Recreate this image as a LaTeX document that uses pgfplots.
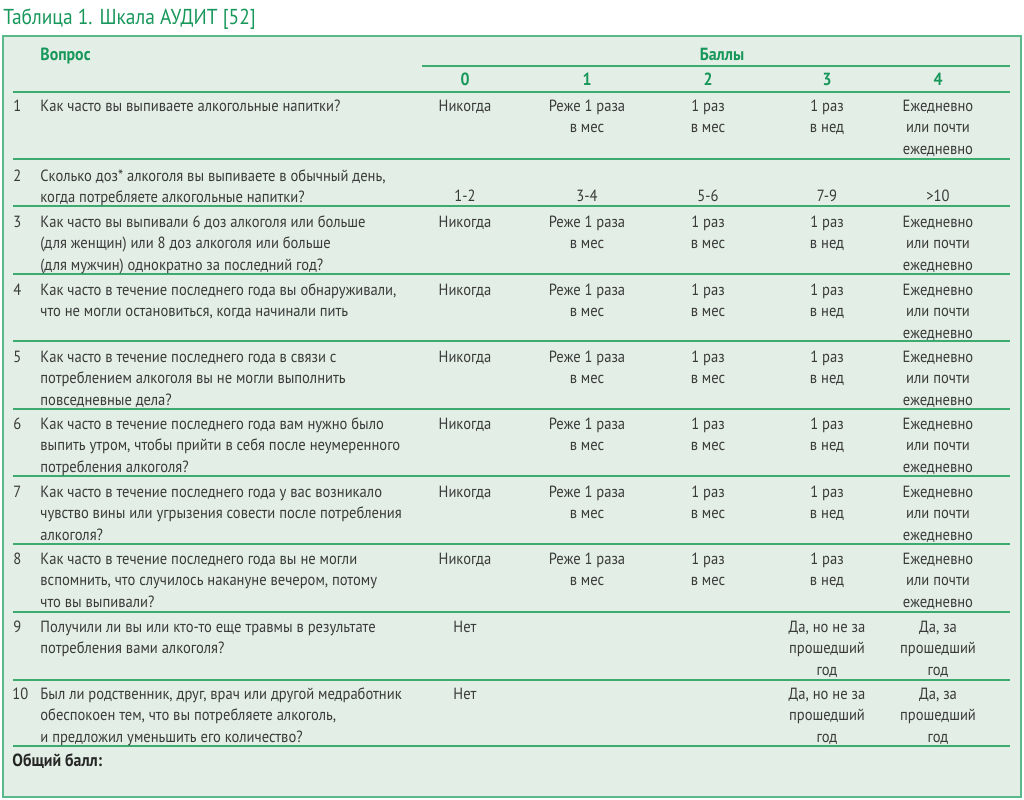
\documentclass[border=0pt]{standalone}
\usepackage{fontspec}
\setmainfont{PT Sans}[FakeStretch=0.9]
\usepackage{pgfplots}
\pgfplotsset{compat=1.18}
\definecolor{bgc}{HTML}{E2EEE6}
\definecolor{rulec}{HTML}{3DAA70}
\definecolor{boxc}{HTML}{5BB888}
\definecolor{headc}{HTML}{17975A}
\definecolor{txt}{HTML}{3A3A3A}
\newcommand{\tf}{\fontsize{8.1}{10.7}\selectfont}
\newcommand{\hf}{\fontsize{8.8}{10.7}\selectfont\bfseries}
\tikzset{
  q/.style={anchor=north west,align=left,inner sep=0pt,font=\tf,text=txt,yshift=-1pt},
  s/.style={anchor=north,align=center,inner sep=0pt,font=\tf,text=txt,yshift=-1pt},
  h/.style={anchor=north,align=center,inner sep=0pt,font=\hf,text=headc,yshift=-1pt},
  sep/.style={rulec,line width=0.75pt},
}
\begin{document}
\begin{tikzpicture}
\begin{axis}[
  width=512pt, height=399.5pt, scale only axis,
  xmin=0, xmax=1024, ymin=0, ymax=799, y dir=reverse,
  hide axis, clip=false,
]
\path (0,0) rectangle (1024,799);
% title
\node[anchor=base west,inner sep=0pt,font=\fontsize{10.8}{12}\selectfont,text=headc]
  at (3,24) {Таблица 1. Шкала АУДИТ [52]};
% box
\fill[bgc] (3,36) rectangle (1021,797);
\draw[boxc,line width=0.8pt] (3,36) rectangle (1021,797);
% header
\node[q,font=\hf,text=headc] at (40,43) {\strut Вопрос};
\node[h] at (722,43) {\strut Баллы};
\draw[sep] (422,66) -- (1010,66);
\node[h] at (465,68) {\strut 0};
\node[h] at (587,68) {\strut 1};
\node[h] at (708,68) {\strut 2};
\node[h] at (827,68) {\strut 3};
\node[h] at (938,68) {\strut 4};
\draw[sep] (13,92) -- (1010,92);
% separators between rows
\draw[sep] (13,159) -- (1010,159);
\draw[sep] (13,206) -- (1010,206);
\draw[sep] (13,274) -- (1010,274);
\draw[sep] (13,341) -- (1010,341);
\draw[sep] (13,409) -- (1010,409);
\draw[sep] (13,476) -- (1010,476);
\draw[sep] (13,544) -- (1010,544);
\draw[sep] (13,612) -- (1010,612);
\draw[sep] (13,680) -- (1010,680);
\draw[sep] (13,746) -- (1010,746);

% row 1
\node[q] at (13,94) {\strut 1};
\node[q] at (40,94) {\strut Как часто вы выпиваете алкогольные напитки?};
\node[s] at (465,94) {\strut Никогда};
\node[s] at (587,94) {\strut Реже 1 раза\\в мес};
\node[s] at (708,94) {\strut 1 раз\\в мес};
\node[s] at (827,94) {\strut 1 раз\\в нед};
\node[s] at (938,94) {\strut Ежедневно\\или почти\\ежедневно};
% row 2
\node[q] at (13,164) {\strut 2};
\node[q] at (40,164) {\strut Сколько доз* алкоголя вы выпиваете в обычный день,\\когда потребляете алкогольные напитки?};
\node[s] at (465,184) {\strut 1-2};
\node[s] at (587,184) {\strut 3-4};
\node[s] at (708,184) {\strut 5-6};
\node[s] at (827,184) {\strut 7-9};
\node[s] at (938,184) {\strut >10};
% row 3
\node[q] at (13,210) {\strut 3};
\node[q] at (40,210) {\strut Как часто вы выпивали 6 доз алкоголя или больше\\(для женщин) или 8 доз алкоголя или больше\\(для мужчин) однократно за последний год?};
\node[s] at (465,210) {\strut Никогда};
\node[s] at (587,210) {\strut Реже 1 раза\\в мес};
\node[s] at (708,210) {\strut 1 раз\\в мес};
\node[s] at (827,210) {\strut 1 раз\\в нед};
\node[s] at (938,210) {\strut Ежедневно\\или почти\\ежедневно};
% row 4
\node[q] at (13,278) {\strut 4};
\node[q] at (40,278) {\strut Как часто в течение последнего года вы обнаруживали,\\что не могли остановиться, когда начинали пить};
\node[s] at (465,278) {\strut Никогда};
\node[s] at (587,278) {\strut Реже 1 раза\\в мес};
\node[s] at (708,278) {\strut 1 раз\\в мес};
\node[s] at (827,278) {\strut 1 раз\\в нед};
\node[s] at (938,278) {\strut Ежедневно\\или почти\\ежедневно};
% row 5
\node[q] at (13,345) {\strut 5};
\node[q] at (40,345) {\strut Как часто в течение последнего года в связи с\\потреблением алкоголя вы не могли выполнить\\повседневные дела?};
\node[s] at (465,345) {\strut Никогда};
\node[s] at (587,345) {\strut Реже 1 раза\\в мес};
\node[s] at (708,345) {\strut 1 раз\\в мес};
\node[s] at (827,345) {\strut 1 раз\\в нед};
\node[s] at (938,345) {\strut Ежедневно\\или почти\\ежедневно};
% row 6
\node[q] at (13,412) {\strut 6};
\node[q] at (40,412) {\strut Как часто в течение последнего года вам нужно было\\выпить утром, чтобы прийти в себя после неумеренного\\потребления алкоголя?};
\node[s] at (465,412) {\strut Никогда};
\node[s] at (587,412) {\strut Реже 1 раза\\в мес};
\node[s] at (708,412) {\strut 1 раз\\в мес};
\node[s] at (827,412) {\strut 1 раз\\в нед};
\node[s] at (938,412) {\strut Ежедневно\\или почти\\ежедневно};
% row 7
\node[q] at (13,480) {\strut 7};
\node[q] at (40,480) {\strut Как часто в течение последнего года у вас возникало\\чувство вины или угрызения совести после потребления\\алкоголя?};
\node[s] at (465,480) {\strut Никогда};
\node[s] at (587,480) {\strut Реже 1 раза\\в мес};
\node[s] at (708,480) {\strut 1 раз\\в мес};
\node[s] at (827,480) {\strut 1 раз\\в нед};
\node[s] at (938,480) {\strut Ежедневно\\или почти\\ежедневно};
% row 8
\node[q] at (13,547) {\strut 8};
\node[q] at (40,547) {\strut Как часто в течение последнего года вы не могли\\вспомнить, что случилось накануне вечером, потому\\что вы выпивали?};
\node[s] at (465,547) {\strut Никогда};
\node[s] at (587,547) {\strut Реже 1 раза\\в мес};
\node[s] at (708,547) {\strut 1 раз\\в мес};
\node[s] at (827,547) {\strut 1 раз\\в нед};
\node[s] at (938,547) {\strut Ежедневно\\или почти\\ежедневно};
% row 9
\node[q] at (13,615) {\strut 9};
\node[q] at (40,615) {\strut Получили ли вы или кто-то еще травмы в результате\\потребления вами алкоголя?};
\node[s] at (465,615) {\strut Нет};
\node[s] at (827,615) {\strut Да, но не за\\прошедший\\год};
\node[s] at (938,615) {\strut Да, за\\прошедший\\год};
% row 10
\node[q] at (12,682) {\strut 10};
\node[q] at (40,682) {\strut Был ли родственник, друг, врач или другой медработник\\обеспокоен тем, что вы потребляете алкоголь,\\и предложил уменьшить его количество?};
\node[s] at (465,682) {\strut Нет};
\node[s] at (827,682) {\strut Да, но не за\\прошедший\\год};
\node[s] at (938,682) {\strut Да, за\\прошедший\\год};
% total
\node[q,font=\hf,text=black!85] at (12,749) {\strut Общий балл:};
\end{axis}
\end{tikzpicture}
\end{document}
